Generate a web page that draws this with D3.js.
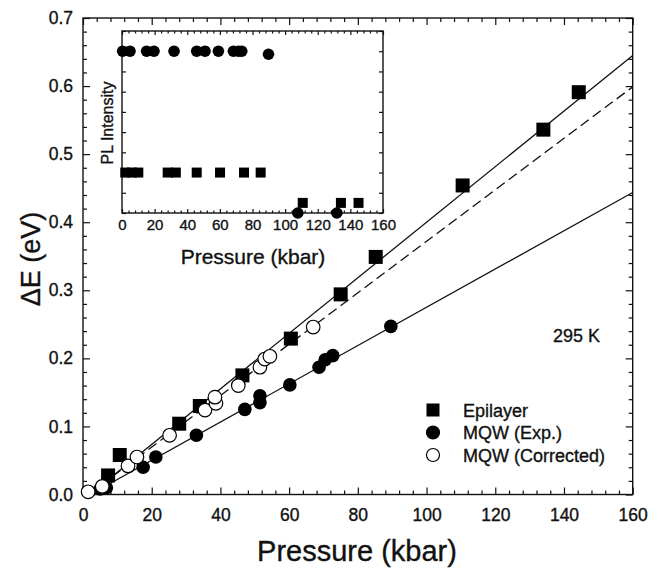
<!DOCTYPE html>
<html>
<head>
<meta charset="utf-8">
<script src="https://cdn.jsdelivr.net/npm/d3@7"></script>
<style>
  body { margin: 0; background: #fff; }
  svg { display: block; font-family: "Liberation Sans", Arial, sans-serif; }
  text { fill: #111; stroke: #111; stroke-width: 0.35px; }
  .tick line { stroke: #111; }
</style>
</head>
<body>
<svg id="chart" width="658" height="569"></svg>
<script>
// main panel data: [pressure kbar, dE eV]
var epilayer = [[7.3, 0.028], [10.7, 0.058], [28, 0.104], [34, 0.130], [46.4, 0.175],
    [60.5, 0.229], [75, 0.294], [85.2, 0.349], [110.5, 0.454], [134, 0.536], [144.3, 0.591]];
var mqwExp = [[5, 0.008], [6.8, 0.010], [17.5, 0.040], [21.2, 0.055], [33, 0.087],
    [47.1, 0.125], [51.5, 0.135], [51.5, 0.145], [60.2, 0.161], [68.7, 0.187],
    [70.5, 0.198], [72.7, 0.204], [89.6, 0.247]];
var mqwCorr = [[1.5, 0.004], [5.6, 0.012], [13.1, 0.042], [15.7, 0.055], [25.2, 0.087],
    [35.5, 0.124], [38.7, 0.134], [38.4, 0.143], [45.2, 0.160], [51.5, 0.187],
    [52.9, 0.199], [54.4, 0.203], [67, 0.246]];
// linear fits: intercept (eV), slope (eV/kbar)
var fitNames = ["Epilayer", "MQW (Corrected)", "MQW (Exp.)"];
var fitIntercepts = [-0.008, -0.006, -0.006];
var fitSlopes = [0.00408, 0.00378, 0.00281];
var fitDashed = [false, true, false];

// inset data: [pressure kbar, PL intensity (arb.)]
var insetCircles = [[0.4, 8], [4.9, 8], [15.1, 8], [19.6, 8], [31.9, 8], [45.8, 8], [50.9, 8],
    [59.1, 8], [68.3, 8], [71.4, 8], [73.4, 8], [89.8, 7.85], [107.8, 0], [131.7, 0]];
var insetSquares = [[2, 2], [6, 2], [10, 2], [28, 2], [33, 2], [45.8, 2], [60.1, 2],
    [74.8, 2], [85, 2], [110.8, 0.5], [134.2, 0.5], [145, 0.5]];

var xTicks = d3.range(0, 161, 20);
var yTicks = d3.range(0, 0.71, 0.1);
var legendLabels = ["Epilayer", "MQW (Exp.)", "MQW (Corrected)"];

var svg = d3.select("#chart");

var x = d3.scaleLinear().domain([0, 160]).range([83, 632.7]);
var y = d3.scaleLinear().domain([0, 0.7]).range([494.5, 18]);

// ---- axes, ticks on all four sides pointing inward
function minorRange(a, b, step) {
    return d3.range(a, b + step / 2, step).filter(v => Math.abs(v / (step * 5) - Math.round(v / (step * 5))) > 1e-6);
}

function drawAxes(g, sx, sy, opts) {
    var xr = sx.range(), yr = sy.range();
    var xMinor = minorRange(sx.domain()[0], sx.domain()[1], opts.xMinorStep);
    var yMinor = opts.yMinor;

    g.append("g").attr("transform", "translate(0," + yr[0] + ")")
        .call(d3.axisBottom(sx).tickValues(opts.xTicks).tickSize(-opts.major).tickSizeOuter(0)
            .tickPadding(opts.xPad).tickFormat(opts.xFormat))
        .call(a => a.select(".domain").remove())
        .selectAll("text").attr("font-size", opts.fs);
    g.append("g").attr("transform", "translate(0," + yr[0] + ")")
        .call(d3.axisBottom(sx).tickValues(xMinor).tickSize(-opts.minor).tickFormat(""))
        .call(a => a.select(".domain").remove());
    g.append("g").attr("transform", "translate(0," + yr[1] + ")")
        .call(d3.axisTop(sx).tickValues(opts.xTicks).tickSize(-opts.major).tickFormat(""))
        .call(a => a.select(".domain").remove());
    g.append("g").attr("transform", "translate(0," + yr[1] + ")")
        .call(d3.axisTop(sx).tickValues(xMinor).tickSize(-opts.minor).tickFormat(""))
        .call(a => a.select(".domain").remove());

    g.append("g").attr("transform", "translate(" + xr[0] + ",0)")
        .call(d3.axisLeft(sy).tickValues(opts.yTicks).tickSize(-opts.major).tickSizeOuter(0)
            .tickPadding(opts.yPad).tickFormat(opts.yFormat))
        .call(a => a.select(".domain").remove())
        .selectAll("text").attr("font-size", opts.fs);
    g.append("g").attr("transform", "translate(" + xr[0] + ",0)")
        .call(d3.axisLeft(sy).tickValues(yMinor).tickSize(-opts.minor).tickFormat(""))
        .call(a => a.select(".domain").remove());
    g.append("g").attr("transform", "translate(" + xr[1] + ",0)")
        .call(d3.axisRight(sy).tickValues(opts.yTicks).tickSize(-opts.major).tickFormat(""))
        .call(a => a.select(".domain").remove());
    g.append("g").attr("transform", "translate(" + xr[1] + ",0)")
        .call(d3.axisRight(sy).tickValues(yMinor).tickSize(-opts.minor).tickFormat(""))
        .call(a => a.select(".domain").remove());

    g.selectAll(".tick line").attr("stroke-width", 1.2);
    g.append("rect")
        .attr("x", xr[0]).attr("y", yr[1])
        .attr("width", xr[1] - xr[0]).attr("height", yr[0] - yr[1])
        .attr("fill", "none").attr("stroke", "#111").attr("stroke-width", 1.4);
}

var main = svg.append("g");
drawAxes(main, x, y, {
    xTicks: xTicks, yTicks: yTicks, xMinorStep: 4,
    yMinor: minorRange(0, 0.7, 0.02),
    major: 7, minor: 4, xPad: 14, yPad: 10, fs: 17.5,
    xFormat: d3.format("d"), yFormat: d3.format(".1f")
});

// ---- fit lines
var fits = fitNames.map((n, i) => ({ name: n, b: fitIntercepts[i], m: fitSlopes[i], dashed: fitDashed[i] }));
main.selectAll("line.fit").data(fits).enter().append("line")
    .attr("class", "fit")
    .attr("x1", d => x(-d.b / d.m)).attr("y1", y(0))
    .attr("x2", x(160)).attr("y2", d => y(d.b + d.m * 160))
    .attr("stroke", "#111").attr("stroke-width", 1.3)
    .attr("stroke-dasharray", d => d.dashed ? "10,5" : null);

// ---- markers
var sq = 14, rc = 6.8;
main.selectAll("rect.epi").data(epilayer).enter().append("rect")
    .attr("class", "epi")
    .attr("x", d => x(d[0]) - sq / 2).attr("y", d => y(d[1]) - sq / 2)
    .attr("width", sq).attr("height", sq).attr("fill", "#000");
main.selectAll("circle.exp").data(mqwExp).enter().append("circle")
    .attr("class", "exp")
    .attr("cx", d => x(d[0])).attr("cy", d => y(d[1])).attr("r", rc).attr("fill", "#000");
main.selectAll("circle.corr").data(mqwCorr).enter().append("circle")
    .attr("class", "corr")
    .attr("cx", d => x(d[0])).attr("cy", d => y(d[1])).attr("r", rc)
    .attr("fill", "#fff").attr("stroke", "#000").attr("stroke-width", 1.2);

// ---- axis titles
svg.append("text").attr("x", 357).attr("y", 561).attr("text-anchor", "middle")
    .attr("font-size", 29).text("Pressure (kbar)");
svg.append("text").attr("transform", "translate(40,259) rotate(-90)").attr("text-anchor", "middle")
    .attr("font-size", 27).text("\u0394E (eV)");
svg.append("text").attr("x", 553).attr("y", 342)
    .attr("font-size", 18).text("295 K");

// ---- legend
var leg = svg.append("g");
legendLabels.forEach(function (lab, i) {
    var ly = 410 + i * 22.5;
    if (i === 0) {
        leg.append("rect").attr("x", 433 - 6.5).attr("y", ly - 6.5).attr("width", 13).attr("height", 13).attr("fill", "#000");
    } else {
        leg.append("circle").attr("cx", 433).attr("cy", ly).attr("r", 6.5)
            .attr("fill", i === 1 ? "#000" : "#fff").attr("stroke", "#000").attr("stroke-width", 1.2);
    }
    leg.append("text").attr("x", 463).attr("y", ly + 6.5).attr("font-size", 18).text(lab);
});

// ---- inset
var ix = d3.scaleLinear().domain([0, 160]).range([122, 383]);
var iy = d3.scaleLinear().domain([0, 9]).range([213, 31]);
var inset = svg.append("g");
inset.append("rect").attr("x", 122).attr("y", 31).attr("width", 261).attr("height", 182).attr("fill", "#fff");
drawAxes(inset, ix, iy, {
    xTicks: xTicks, yTicks: d3.range(0, 10, 1), xMinorStep: 4,
    yMinor: [],
    major: 4, minor: 2.5, xPad: 6, yPad: 3, fs: 15,
    xFormat: d3.format("d"), yFormat: ""
});
inset.selectAll("rect.isq").data(insetSquares).enter().append("rect")
    .attr("class", "isq")
    .attr("x", d => ix(d[0]) - 5).attr("y", d => iy(d[1]) - 5)
    .attr("width", 10).attr("height", 10).attr("fill", "#000");
inset.selectAll("circle.ic").data(insetCircles).enter().append("circle")
    .attr("class", "ic")
    .attr("cx", d => ix(d[0])).attr("cy", d => iy(d[1])).attr("r", 5.8).attr("fill", "#000");
svg.append("text").attr("x", 253).attr("y", 264).attr("text-anchor", "middle")
    .attr("font-size", 21).text("Pressure (kbar)");
svg.append("text").attr("transform", "translate(113,123) rotate(-90)").attr("text-anchor", "middle")
    .attr("font-size", 16).text("PL Intensity");
</script>
</body>
</html>
